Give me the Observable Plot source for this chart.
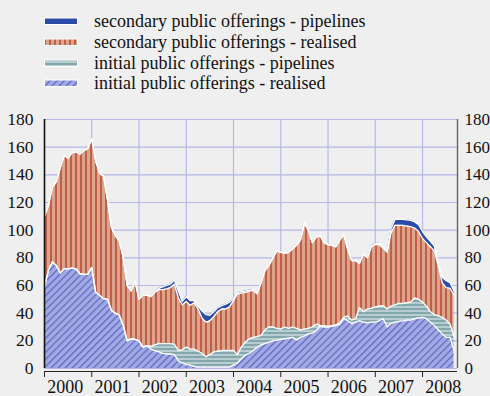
<!DOCTYPE html>
<html><head><meta charset="utf-8">
<script src="https://cdn.jsdelivr.net/npm/d3@7"></script>
<script src="https://cdn.jsdelivr.net/npm/@observablehq/plot@0.6"></script>
<style>
html,body{margin:0;padding:0;background:#efefef;}
body{width:490px;height:396px;overflow:hidden;font-family:"Liberation Serif","Times New Roman",serif;color:#111;}
#legend{position:relative;height:100px;}
.row{position:absolute;left:0;height:20px;display:flex;align-items:center;font-size:18px;white-space:nowrap;}
.row svg{margin-left:44px;margin-right:15px;}
</style>
</head><body>
<svg width="0" height="0" style="position:absolute">
<defs>
<pattern id="pIpoR" width="5" height="5" patternUnits="userSpaceOnUse" patternTransform="rotate(45)">
<rect width="5" height="5" fill="#a3a9e1"/>
<line x1="0.6" y1="0" x2="0.6" y2="5" stroke="#5463c6" stroke-width="1.1"/>
</pattern>
<pattern id="pIpoP" width="10" height="4" patternUnits="userSpaceOnUse">
<rect width="10" height="4" fill="#b7cdcf"/>
<line x1="0" y1="1" x2="10" y2="1" stroke="#5f8f97" stroke-width="1.2"/>
</pattern>
<pattern id="pSpoR" width="5" height="10" patternUnits="userSpaceOnUse">
<rect width="5" height="10" fill="#dba48c"/>
<line x1="1" y1="0" x2="1" y2="10" stroke="#b8402a" stroke-width="1.4"/>
</pattern>
</defs>
</svg>
<div id="legend"></div>
<div id="chart"></div>
<script>
// Series keys (bottom to top of the stack) and legend labels
const seriesKeys = ["ipoR", "ipoP", "spoR", "spoP"];
const seriesLabels = {
  spoP: "secondary public offerings - pipelines",
  spoR: "secondary public offerings - realised",
  ipoP: "initial public offerings - pipelines",
  ipoR: "initial public offerings - realised"
};
const legendOrder = ["spoP", "spoR", "ipoP", "ipoR"];
const seriesFills = {ipoR: "url(#pIpoR)", ipoP: "url(#pIpoP)", spoR: "url(#pSpoR)", spoP: "#2b4ba9"};

// Monthly values, Jan 2000 - Sep 2008
const startYear = 2000;
const ipoRealised = [
  59,71,77,74.5,69,72,72,72.5,72,68.5,68,68,
  73,55,53,50.5,50,42,40,38.5,31,20,21.5,21,
  20,15.5,16.5,14,13,12,11,10.5,10.5,10,5.5,4,
  3,2.5,1.5,1,1,1,1,1,1,1,1,1,
  2.5,4,7,9.5,11,13,15.5,17,18,19,20,20.5,
  21,21.5,22,22.5,20.5,22.5,23.5,25,25.5,27.5,30.5,30,
  30,30.5,31,32,36,34.5,32.5,33.5,34.5,33.5,33,33.5,
  33.5,34.5,36,30,32.5,33.5,34,34.5,35,35,36,36.5,
  37,36,33.5,31,28,25,22.5,22.5,13
];
const ipoPipelines = [
  0,0,0,0,0,0,0,0,0,0,0,0,
  0,0,0,0,0,0,0,0,0,0,0,0,
  0,0,0,2,4,6,7,7.5,7.5,7.5,7.5,9.5,
  12.5,11.5,12.5,11.5,10,7.5,9,11,11.5,12,12,12,
  10.5,6,8.5,9.5,10.5,9.5,7.5,7,10,11,10,8.5,
  7.5,8.5,7,7.5,8.5,5.5,5,4,4.5,4.5,0.5,1,
  0.5,0.5,0.5,1,1,3.5,2.5,2.5,9.5,7.5,10,10,
  11,10.5,9.5,13,12.5,12.5,13,12.5,12.5,13,15,13.5,
  11,9,7.5,8,10,12,12.5,9.5,10
];
const spoRealised = [
  51,47,54,60.5,76,82,80,83.5,84.5,86.5,89.5,91,
  93,95,88,88.5,72,60,56,53.5,49,40,34.5,42,
  30,37.5,36.5,36,38,39,39,39.5,40.5,43.5,38,32.5,
  33,31.5,33.5,30.5,25.5,25,24.5,25.5,28.5,30,30,31.5,
  36,44,39,36,34.5,34,31,38,43,44.5,50,56,
  55.5,53.5,55,56.5,60,65,76.5,71,61,63,65,60,
  59,58,56.5,60,60,48,43,42,32,42,37,44.5,
  45,44.5,41.5,41,53,57.5,56.5,56.5,55.5,54.5,50.5,49,
  46,46,47,46,36,25,23.5,26,30
];
const spoPipelines = [
  0,0,0,0,0,0,0,0,0,0,0,0,
  0,0,0,0,0,0,0,0,0,0,0,0,
  0,0,0,0,0.5,1,2,2.5,2.5,3,5,2.5,
  3.5,3.5,1.5,2,5,5.5,4,3.5,3,2.5,3.5,3.5,
  1.5,1,1,1,0.5,0.5,0,0,0,0,0,0,
  0,0,0,0,0,0,0,0,0,0,0,0,
  0,0,0,0,0,0,0,0,0,0,0,0.5,
  1,1,1,0.5,3,4.3,4.3,4.3,4.5,4.5,4.5,5,
  5,4,4,3.5,2,4,5,4,3
];
const yTicks = [0,20,40,60,80,100,120,140,160,180];
const yearLabels = [2000,2001,2002,2003,2004,2005,2006,2007,2008];

const seriesValues = {ipoR: ipoRealised, ipoP: ipoPipelines, spoR: spoRealised, spoP: spoPipelines};
const data = [];
for (const key of seriesKeys) {
  seriesValues[key].forEach((v, i) => data.push({t: startYear + i / 12, series: key, value: v}));
}
const xMax = 2008.74;
const font = '"Liberation Serif","Times New Roman",serif';

// Legend
const legend = document.getElementById("legend");
const rowCenters = [21.5, 42.3, 63.2, 83.5];
legendOrder.forEach((key, k) => {
  const row = document.createElement("div");
  row.className = "row";
  row.style.top = (rowCenters[k] - 10) + "px";
  const sw = `<svg width="35" height="9"><rect x="0.5" y="1" width="33" height="6.5" fill="${seriesFills[key]}" stroke="#ffffff" stroke-width="1"/></svg>`;
  row.innerHTML = sw + `<span>${seriesLabels[key]}</span>`;
  legend.appendChild(row);
});

const gridColor = "#b5b8e8";
const plot = Plot.plot({
  width: 490,
  height: 296,
  marginTop: 19,
  marginBottom: 28,
  marginLeft: 44,
  marginRight: 33,
  style: {background: "transparent", fontFamily: font, fontSize: "17px", color: "#111"},
  x: {type: "linear", domain: [2000, xMax]},
  y: {domain: [0, 180]},
  color: {domain: seriesKeys, range: seriesKeys.map(k => seriesFills[k])},
  marks: [
    Plot.gridY(yTicks, {stroke: gridColor, strokeOpacity: 1, strokeWidth: 1.2}),
    Plot.gridX(yearLabels.slice(1), {stroke: gridColor, strokeOpacity: 1, strokeWidth: 1.2}),
    Plot.areaY(data, {x: "t", y: "value", z: "series", fill: "series", order: seriesKeys}),
    Plot.lineY(data, Plot.stackY2({x: "t", y: "value", z: "series", order: seriesKeys, stroke: "#ffffff", strokeWidth: 1.3})),
    Plot.ruleX([2000], {stroke: "#111", strokeWidth: 1.6}),
    Plot.ruleX([xMax], {stroke: "#666", strokeWidth: 1.4}),
    Plot.ruleY([0], {dy: 3, stroke: "#222", strokeWidth: 1.2}),
    Plot.axisY(yTicks, {anchor: "left", tickSize: 0, tickPadding: 11, fontSize: 17.5, label: null}),
    Plot.axisY(yTicks, {anchor: "right", tickSize: 0, tickPadding: 7, fontSize: 17, label: null}),
    Plot.axisX(yearLabels, {anchor: "bottom", tickSize: 6, dy: 3, tickFormat: () => "", label: null, stroke: "#222"}),
    Plot.axisX(yearLabels.map(y => y + 0.5), {anchor: "bottom", tickSize: 0, tickPadding: 12, dx: -3, fontSize: 18, tickFormat: d => String(Math.floor(d)), label: null})
  ]
});
document.getElementById("chart").appendChild(plot);
</script>
</body></html>
